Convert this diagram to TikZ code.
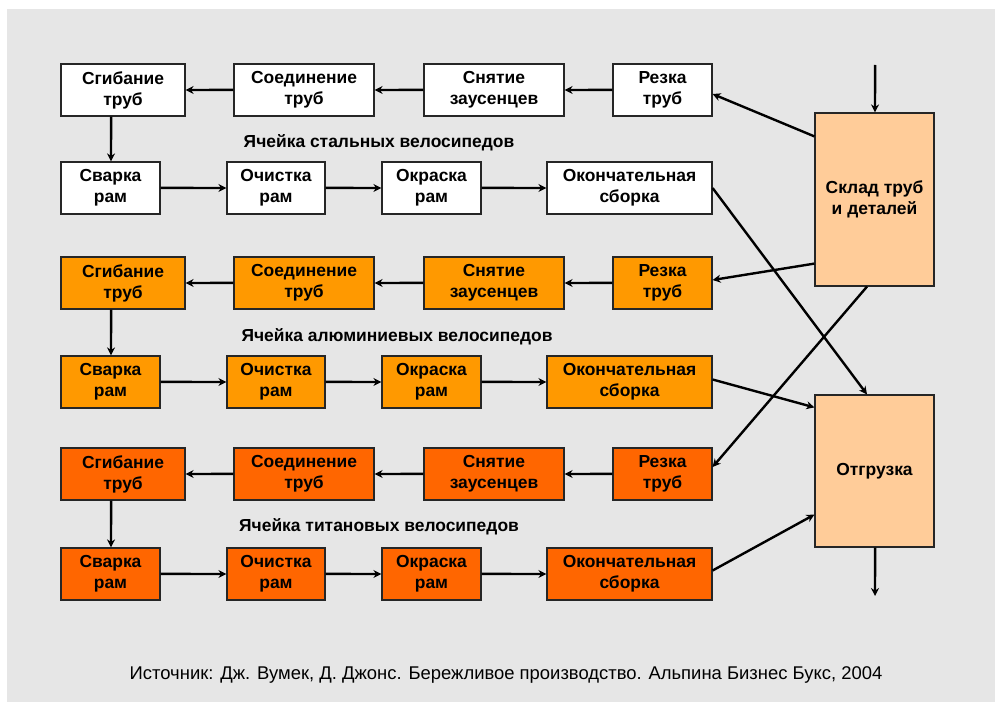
\documentclass[tikz,border=0pt]{standalone}
\usepackage{fontspec}
\setmainfont{Liberation Sans}
\usetikzlibrary{arrows.meta,calc}
\definecolor{bg}{HTML}{E6E6E6}
\definecolor{orA}{HTML}{FF9900}
\definecolor{orB}{HTML}{FF6600}
\definecolor{peach}{HTML}{FFCC99}
\begin{document}
\begin{tikzpicture}[x=1bp,y=-1bp,
  box/.style={draw=black!85,line width=1.2bp,inner sep=0pt,align=center,
    font=\fontsize{17.5}{21}\selectfont\bfseries,minimum height=52bp},
  wbox/.style={box,fill=white},
  abox/.style={box,fill=orA},
  tbox/.style={box,fill=orB},
  big/.style={box,fill=peach,minimum width=119bp},
  arr/.style={line width=2.4bp,-{Stealth[length=8bp,width=8bp]}},
  cell/.style={font=\fontsize{17.5}{21}\selectfont\bfseries},
]
\useasboundingbox (0,0) rectangle (995,702);
\fill[white] (0,0) rectangle (995,702);
\fill[bg] (7,9) rectangle (995,702);

% Steel cell
\node[wbox,minimum width=124bp] (A1) at (123,90) {Сгибание\\труб};
\node[wbox,minimum width=140bp] (A2) at (304,90) {Соединение\\труб};
\node[wbox,minimum width=140bp] (A3) at (494,90) {Снятие\\заусенцев};
\node[wbox,minimum width=99bp] (A4) at (662.5,90) {Резка\\труб};
\node[wbox,minimum width=99bp] (B1) at (110.5,188) {Сварка\\рам};
\node[wbox,minimum width=98bp] (B2) at (276,188) {Очистка\\рам};
\node[wbox,minimum width=99bp] (B3) at (431.5,188) {Окраска\\рам};
\node[wbox,minimum width=165bp] (B4) at (629.5,188) {Окончательная\\сборка};
\node[cell] (L1) at (379,143) {Ячейка стальных велосипедов};
% Aluminium cell
\node[abox,minimum width=124bp] (C1) at (123,283) {Сгибание\\труб};
\node[abox,minimum width=140bp] (C2) at (304,283) {Соединение\\труб};
\node[abox,minimum width=140bp] (C3) at (494,283) {Снятие\\заусенцев};
\node[abox,minimum width=99bp] (C4) at (662.5,283) {Резка\\труб};
\node[abox,minimum width=99bp] (D1) at (110.5,382) {Сварка\\рам};
\node[abox,minimum width=98bp] (D2) at (276,382) {Очистка\\рам};
\node[abox,minimum width=99bp] (D3) at (431.5,382) {Окраска\\рам};
\node[abox,minimum width=165bp] (D4) at (629.5,382) {Окончательная\\сборка};
\node[cell] (L2) at (397,337) {Ячейка алюминиевых велосипедов};
% Titanium cell
\node[tbox,minimum width=124bp] (E1) at (123,474) {Сгибание\\труб};
\node[tbox,minimum width=140bp] (E2) at (304,474) {Соединение\\труб};
\node[tbox,minimum width=140bp] (E3) at (494,474) {Снятие\\заусенцев};
\node[tbox,minimum width=99bp] (E4) at (662.5,474) {Резка\\труб};
\node[tbox,minimum width=99bp] (F1) at (110.5,574) {Сварка\\рам};
\node[tbox,minimum width=98bp] (F2) at (276,574) {Очистка\\рам};
\node[tbox,minimum width=99bp] (F3) at (431.5,574) {Окраска\\рам};
\node[tbox,minimum width=165bp] (F4) at (629.5,574) {Окончательная\\сборка};
\node[cell] (L3) at (379,527) {Ячейка титановых велосипедов};

% Store and shipping
\node[big,minimum height=173bp] (S) at (874.5,199.5) {Склад труб\\и деталей};
\node[big,minimum height=152bp] (O) at (874.5,471) {Отгрузка};
\coordinate (Sin) at (875,65);
\coordinate (Oout) at (875,596);

% flows within cells
\foreach \p in {A,C,E}{
  \draw[arr] ([yshift=0.1bp]\p4.west) -- (\p3.east);
  \draw[arr] ([yshift=0.1bp]\p3.west) -- (\p2.east);
  \draw[arr] ([yshift=0.1bp]\p2.west) -- (\p1.east);
}
\draw[arr] ([xshift=0.1bp]A1.south -| 111,0) -- (B1.north -| 111,0);
\draw[arr] ([xshift=0.1bp]C1.south -| 111,0) -- (D1.north -| 111,0);
\draw[arr] ([xshift=0.1bp]E1.south -| 111,0) -- (F1.north -| 111,0);
\foreach \p in {B,D,F}{
  \draw[arr] ([yshift=0.1bp]\p1.east) -- (\p2.west);
  \draw[arr] ([yshift=0.1bp]\p2.east) -- (\p3.west);
  \draw[arr] ([yshift=0.1bp]\p3.east) -- (\p4.west);
}

% store connections
\draw[arr] ([xshift=0.1bp]Sin) -- (Sin |- S.north);
\draw[arr] ([yshift=-24bp]S.north west) -- ([yshift=-4bp]A4.east);
\draw[arr] ([yshift=23bp]S.south west) -- ([yshift=3bp]C4.east);
\draw[arr] ([xshift=-7.5bp]S.south) -- ([yshift=7bp]E4.east);
\draw[arr] (B4.east) -- ([xshift=-7.5bp]O.north);
\draw[arr] ([yshift=2.5bp]D4.east) -- ([yshift=-13bp]O.north west);
\draw[arr] ([yshift=3.5bp]F4.east) -- ([yshift=33bp]O.south west);
\draw[arr] ([xshift=0.1bp]O.south -| Oout) -- (Oout);

\node[font=\fontsize{18.5}{22}\selectfont] (src) at (506,675) {Источник: Дж. Вумек, Д. Джонс. Бережливое производство. Альпина Бизнес Букс, 2004};
\end{tikzpicture}
\end{document}
